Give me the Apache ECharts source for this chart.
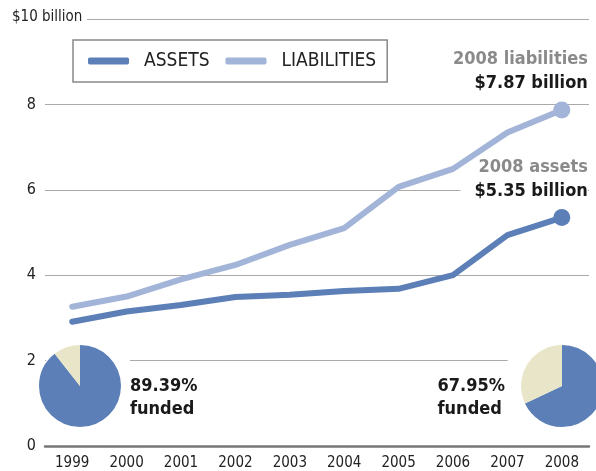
<!DOCTYPE html>
<html lang="en">
  <head>
    <meta charset="UTF-8" />
    <script src="https://cdn.jsdelivr.net/npm/echarts@6/dist/echarts.min.js"></script>
    <title>Pension assets vs liabilities</title>
  </head>
  <body style="margin: 0">
    <div id="app" style="width: 596px; height: 471px"></div>

    <script>
      const years = ["1999", "2000", "2001", "2002", "2003", "2004", "2005", "2006", "2007", "2008"];
      const assets = [2.91, 3.15, 3.3, 3.49, 3.54, 3.63, 3.68, 4.0, 4.94, 5.35];
      const liabilities = [3.26, 3.5, 3.9, 4.24, 4.71, 5.1, 6.07, 6.49, 7.34, 7.87];
      const fundedPct = [89.39, 67.95]; // 1999, 2008
      const yTicks = [0, 2, 4, 6, 8, 10];

      const FONT = "'DejaVu Sans Condensed', 'Liberation Sans Narrow', sans-serif";
      const BLUE = "#5b7fb6";
      const LIGHT = "#a3b4d9";
      const CREAM = "#e8e5c8";
      const last = years.length - 1;

      const echart = echarts.init(document.getElementById("app"));

      // 末尾の点だけにマーカーと注記を出す
      function lineData(vals, title, kExtra) {
        return vals.map((v, i) =>
          i === last
            ? {
                value: v,
                label: {
                  show: true,
                  position: "top",
                  distance: 6,
                  align: "right",
                  offset: [26, 0],
                  formatter: "{g|" + title + "}\n{k|$" + v.toFixed(2) + " billion}",
                  rich: {
                    g: { color: "#8a8a8a", fontSize: 18, fontWeight: "bold", fontFamily: FONT, lineHeight: 24 },
                    k: Object.assign(
                      { color: "#1a1a1a", fontSize: 18, fontWeight: "bold", fontFamily: FONT, lineHeight: 24 },
                      kExtra || {}
                    ),
                  },
                },
              }
            : v
        );
      }

      function pie(idx, cx, radius) {
        const p = fundedPct[idx];
        return {
          type: "pie",
          center: [cx, 386],
          radius: radius,
          silent: true,
          startAngle: 90,
          clockwise: true,
          label: { show: false },
          labelLine: { show: false },
          z: 5,
          data: [
            { value: p, itemStyle: { color: BLUE } },
            { value: +(100 - p).toFixed(2), itemStyle: { color: CREAM } },
          ],
        };
      }

      // 円グラフのまわりの白い縁（グリッド線を隠す）
      function pieBack(cx, radius) {
        return {
          type: "pie",
          center: [cx, 386],
          radius: radius,
          silent: true,
          label: { show: false },
          z: 4,
          data: [{ value: 1, itemStyle: { color: "#fff" } }],
        };
      }

      echart.setOption({
        backgroundColor: "#fff",
        animation: false,
        textStyle: { fontFamily: FONT },
        grid: { left: 45, right: 7, top: 19, bottom: 25 },
        legend: {
          left: 73,
          top: 40,
          padding: [11, 11, 11, 15],
          itemGap: 16,
          itemWidth: 41,
          itemHeight: 7,
          icon: "roundRect",
          borderColor: "#888",
          borderWidth: 1.5,
          textStyle: { fontSize: 19, color: "#222", fontFamily: FONT, padding: [0, 0, 0, 10], lineHeight: 20 },
          data: ["ASSETS", "LIABILITIES"],
        },
        xAxis: {
          type: "category",
          data: years,
          boundaryGap: true,
          z: 10,
          axisLine: { lineStyle: { color: "#777", width: 2.5 } },
          axisTick: { show: false },
          axisLabel: { color: "#222", fontSize: 15, margin: 10, fontFamily: FONT },
        },
        yAxis: {
          type: "value",
          min: yTicks[0],
          max: yTicks[yTicks.length - 1],
          interval: 2,
          axisLine: { show: false },
          axisTick: { show: false },
          splitLine: { lineStyle: { color: "#aaa", width: 1 } },
          axisLabel: {
            color: "#222",
            fontSize: 16,
            margin: 9,
            fontFamily: FONT,
            formatter: (v) => (v === 10 ? "" : String(v)),
          },
        },
        graphic: [
          { type: "rect", z: 100, shape: { x: 40, y: 11, width: 47, height: 16 }, style: { fill: "#fff" } },
          {
            type: "text",
            z: 101,
            left: 12,
            top: 10,
            style: { text: "$10 billion", fontSize: 15, fill: "#222", fontFamily: FONT },
          },
          {
            type: "text",
            z: 101,
            left: 130,
            top: 375,
            style: {
              text: fundedPct[0].toFixed(2) + "%\nfunded",
              fontSize: 18,
              fontWeight: "bold",
              lineHeight: 23,
              fill: "#1a1a1a",
              fontFamily: FONT,
            },
          },
          {
            type: "text",
            z: 101,
            right: 91,
            top: 375,
            style: {
              text: fundedPct[1].toFixed(2) + "%\nfunded",
              fontSize: 18,
              fontWeight: "bold",
              lineHeight: 23,
              align: "right",
              fill: "#1a1a1a",
              fontFamily: FONT,
            },
          },
        ],
        series: [
          {
            name: "ASSETS",
            type: "line",
            data: lineData(assets, "2008 assets", { backgroundColor: "#fff", padding: [0, 0, 0, 14] }),
            color: BLUE,
            symbol: "circle",
            symbolSize: (v, p) => (p.dataIndex === last ? 17 : 0),
            showSymbol: true,
            lineStyle: { width: 6, color: BLUE, cap: "round", join: "round" },
            itemStyle: { color: BLUE },
            z: 3,
          },
          {
            name: "LIABILITIES",
            type: "line",
            data: lineData(liabilities, "2008 liabilities"),
            color: LIGHT,
            symbol: "circle",
            symbolSize: (v, p) => (p.dataIndex === last ? 17 : 0),
            showSymbol: true,
            lineStyle: { width: 6, color: LIGHT, cap: "round", join: "round" },
            itemStyle: { color: LIGHT },
            z: 3,
          },
          pieBack(88, 49),
          pie(0, 80, 41),
          pieBack(562, 60),
          pie(1, 562, 41),
        ],
      });
    </script>
  </body>
</html>
